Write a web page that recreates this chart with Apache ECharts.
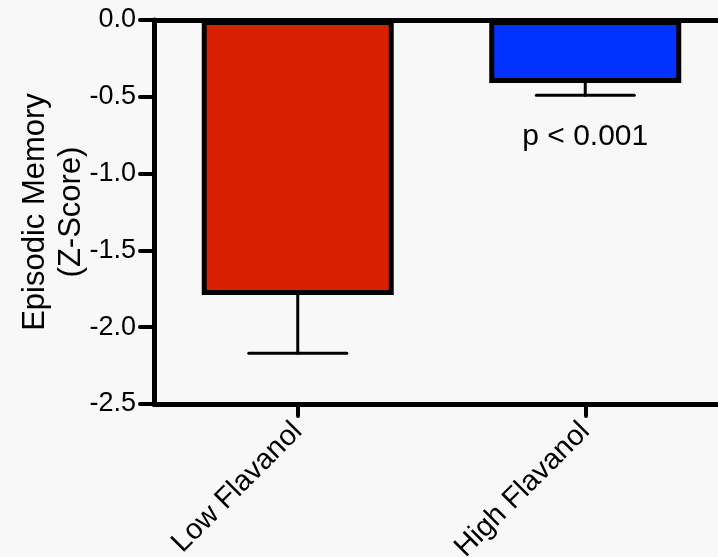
<!DOCTYPE html>
<html>
<head>
<meta charset="utf-8">
<script src="https://cdn.jsdelivr.net/npm/echarts@6/dist/echarts.min.js"></script>
<style>
  html, body { margin: 0; padding: 0; background: #f8f8f8; }
  #main { width: 718px; height: 557px; }
</style>
</head>
<body>
<div id="main"></div>
<script>
// 数据
var categories = ['Low Flavanol', 'High Flavanol'];
var means = [-1.79, -0.41];
var errLow = [-2.17, -0.49];
var barColors = ['#d62000', '#0033ff'];
var yTicks = [0, -0.5, -1.0, -1.5, -2.0, -2.5];
var pText = 'p < 0.001';
var pPos = ['High Flavanol', -0.76];

var myChart = echarts.init(document.getElementById('main'));

var option = {
  backgroundColor: '#f8f8f8',
  animation: false,
  grid: { left: 154, right: -11, top: 20, bottom: 153, outerBoundsMode: 'none', containLabel: false },
  xAxis: [{
    type: 'category',
    data: categories,
    position: 'bottom',
    axisLine: { onZero: false, lineStyle: { color: '#000', width: 5 } },
    axisTick: { show: true, alignWithLabel: true, length: 12, lineStyle: { color: '#000', width: 4, cap: 'round' } },
    axisLabel: { rotate: 45, fontSize: 29, color: '#000', fontFamily: 'Liberation Sans', margin: 23 }
  }, {
    type: 'category',
    data: categories,
    position: 'top',
    axisLine: { onZero: false, lineStyle: { color: '#000', width: 5 } },
    axisTick: { show: false },
    axisLabel: { show: false }
  }],
  yAxis: {
    type: 'value',
    min: -2.5,
    max: 0,
    interval: 0.5,
    name: 'Episodic Memory\n(Z-Score)',
    nameLocation: 'middle',
    nameRotate: 90,
    nameGap: 65,
    nameMoveOverlap: false,
    nameTextStyle: { fontSize: 31, color: '#000', fontFamily: 'Liberation Sans', lineHeight: 36 },
    axisLine: { show: true, lineStyle: { color: '#000', width: 5 } },
    axisTick: { show: true, length: 14, lineStyle: { color: '#000', width: 4, cap: 'round' } },
    axisLabel: {
      fontSize: 27, color: '#000', fontFamily: 'Liberation Sans', margin: 18,
      formatter: function (v) {
        var i = yTicks.indexOf(v);
        return i >= 0 ? yTicks[i].toFixed(1) : '';
      }
    },
    splitLine: { show: false }
  },
  series: [{
    type: 'bar',
    data: means.map(function (v, i) {
      return { value: v, itemStyle: { color: barColors[i] } };
    }),
    barWidth: 192,
    itemStyle: { borderColor: '#000', borderWidth: 5 },
    z: 2
  }, {
    type: 'custom',
    data: means.map(function (v, i) { return [i, v, errLow[i]]; }),
    renderItem: function (params, api) {
      var top = api.coord([api.value(0), api.value(1)]);
      var bot = api.coord([api.value(0), api.value(2)]);
      var half = 49;
      var st = { stroke: '#000', lineWidth: 3, lineCap: 'round' };
      return {
        type: 'group',
        children: [
          { type: 'line', shape: { x1: top[0], y1: top[1], x2: bot[0], y2: bot[1] }, style: st },
          { type: 'line', shape: { x1: bot[0] - half, y1: bot[1], x2: bot[0] + half, y2: bot[1] }, style: st }
        ]
      };
    },
    z: 1
  }, {
    type: 'scatter',
    data: [pPos],
    symbolSize: 0,
    itemStyle: { opacity: 1 },
    label: {
      show: true,
      position: 'inside',
      formatter: pText,
      fontSize: 30,
      color: '#000',
      fontFamily: 'Liberation Sans'
    }
  }]
};
myChart.setOption(option);
</script>
</body>
</html>
